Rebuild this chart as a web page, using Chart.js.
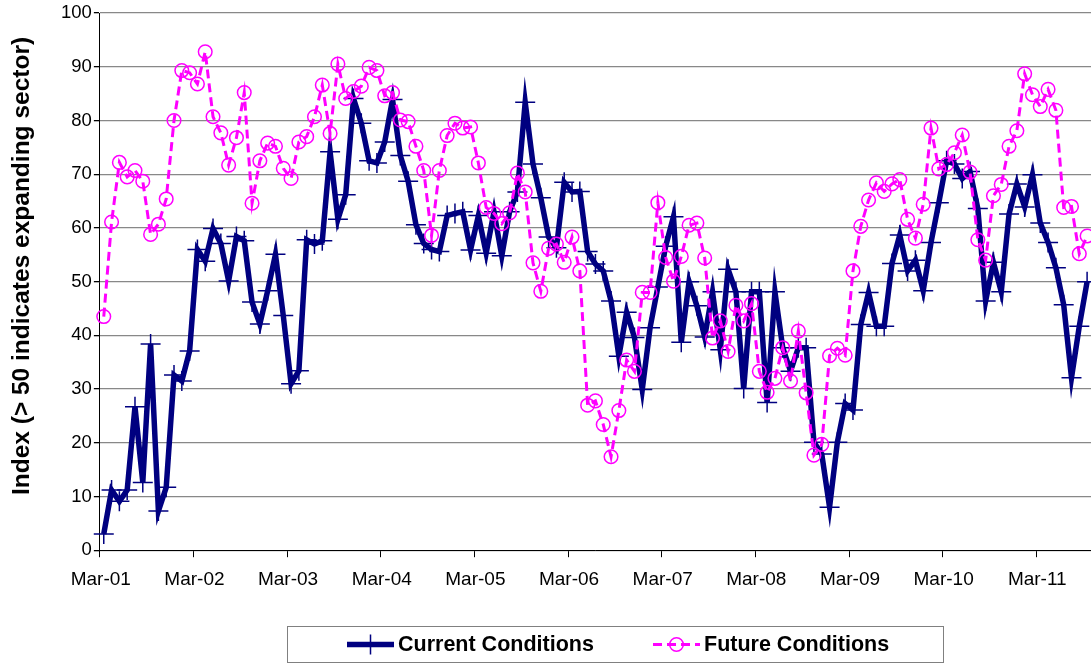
<!DOCTYPE html>
<html><head><meta charset="utf-8">
<script src="https://cdn.jsdelivr.net/npm/chart.js@4/dist/chart.umd.min.js"></script>
<style>html,body{margin:0;padding:0;background:#fff;overflow:hidden}#wrap{width:1091px;height:663px}</style>
</head><body><div id="wrap"><canvas id="c" width="1091" height="663"></canvas></div>
<script>
// Months Mar-01 .. Sep-11 (category labels)
const monthNames = ['Jan','Feb','Mar','Apr','May','Jun','Jul','Aug','Sep','Oct','Nov','Dec'];
const categories = [];
for (let i = 0; i < 127; i++) {
  const m = (2 + i) % 12, y = 1 + Math.floor((2 + i) / 12);
  categories.push(monthNames[m] + '-' + String(y).padStart(2, '0'));
}
const tickLabels = ['Mar-01','Mar-02','Mar-03','Mar-04','Mar-05','Mar-06','Mar-07','Mar-08','Mar-09','Mar-10','Mar-11'];

const currentConditions = [
  3, 11.2, 9.1, 11.2, 26.7, 12.6, 38.4, 7.3, 11.7, 32.6, 31.5, 37.1,
  56.0, 53.8, 59.9, 57.1, 50.1, 58.4, 57.6, 46.2, 42.1, 48.3, 55.1, 43.7,
  31.0, 33.4, 57.8, 57.0, 57.6, 74.2, 61.6, 66.2, 84.1, 79.5, 72.5, 72.1,
  76.0, 83.9, 73.5, 68.7, 60.6, 57.1, 56.0, 55.6, 62.3, 62.7, 63.0, 55.9,
  62.3, 55.3, 63.0, 54.8, 63.0, 66.7, 83.4, 71.9, 65.6, 58.3, 56.3, 68.5,
  66.7, 66.8, 55.6, 53.3, 52.0, 46.4, 36.1, 44.3, 39.6, 29.9, 41.4, 49.0,
  56.6, 62.1, 38.7, 50.0, 45.5, 39.7, 48.1, 37.3, 52.3, 48.1, 30.1, 48.1,
  48.1, 27.5, 48.1, 37.7, 33.3, 37.7, 37.7, 20.1, 17.9, 8.0, 20.1, 27.3,
  26.1, 42.0, 48.0, 41.7, 41.7, 53.4, 58.7, 52.0, 54.0, 48.3, 57.3, 64.7,
  72.5, 71.9, 69.2, 70.5, 63.6, 46.4, 53.6, 48.1, 62.6, 68.2, 63.9, 69.9,
  60.9, 57.3, 52.6, 45.7, 32.1, 41.7, 50.0
];
const futureConditions = [
  43.5, 61.1, 72.2, 69.5, 70.7, 68.7, 58.8, 60.7, 65.4, 80.0, 89.3, 88.9,
  86.8, 92.8, 80.7, 77.7, 71.7, 76.8, 85.2, 64.6, 72.5, 75.8, 75.2, 71.1,
  69.2, 76.0, 77.0, 80.7, 86.6, 77.6, 90.5, 84.1, 85.4, 86.4, 89.9, 89.3,
  84.6, 85.2, 80.1, 79.8, 75.2, 70.7, 58.6, 70.7, 77.2, 79.5, 78.6, 78.8,
  72.1, 63.8, 62.7, 60.8, 62.8, 70.2, 66.7, 53.5, 48.2, 56.2, 57.0, 53.6,
  58.3, 52.0, 27.0, 27.8, 23.4, 17.4, 26.0, 35.4, 33.3, 48.0, 48.0, 64.7,
  54.5, 50.1, 54.7, 60.5, 60.9, 54.4, 39.5, 42.7, 37.0, 45.6, 42.7, 45.9,
  33.3, 29.4, 32.0, 37.7, 31.5, 40.8, 29.3, 17.7, 19.7, 36.2, 37.6, 36.3,
  52.0, 60.3, 65.2, 68.4, 66.8, 68.2, 69.0, 61.6, 58.1, 64.4, 78.6, 71.0,
  71.8, 74.0, 77.3, 70.4, 57.8, 54.0, 66.0, 68.1, 75.2, 78.1, 88.7, 84.8,
  82.6, 85.8, 81.9, 63.8, 64.0, 55.2, 58.5
];
const seriesLabels = ['Current Conditions', 'Future Conditions'];
const yTitle = 'Index (> 50 indicates expanding sector)';

const FONT = "'Liberation Sans', Arial, sans-serif";

const annotPlugin = {
  id: 'boxLegend',
  afterDraw(chart) {
    const ctx = chart.ctx;
    // y axis title
    ctx.save();
    ctx.translate(22, 266);
    ctx.rotate(-Math.PI / 2);
    ctx.fillStyle = '#000';
    ctx.font = 'bold 24.5px ' + FONT;
    ctx.textAlign = 'center';
    ctx.textBaseline = 'middle';
    ctx.fillText(yTitle, 0, 0);
    ctx.restore();
    // legend
    const box = {x: 287.5, y: 626.5, w: 656, h: 36};
    ctx.save();
    ctx.strokeStyle = '#808080';
    ctx.lineWidth = 1;
    ctx.strokeRect(box.x, box.y, box.w, box.h);
    const cy = box.y + box.h / 2;
    const items = [
      {ds: chart.data.datasets[0], x0: 347, x1: 394, tx: 398},
      {ds: chart.data.datasets[1], x0: 653, x1: 700, tx: 704}
    ];
    items.forEach(it => {
      const ds = it.ds;
      ctx.save();
      ctx.strokeStyle = ds.borderColor;
      ctx.lineWidth = ds.borderWidth;
      ctx.setLineDash(ds.borderDash || []);
      ctx.beginPath(); ctx.moveTo(it.x0, cy); ctx.lineTo(it.x1, cy); ctx.stroke();
      ctx.restore();
      ctx.save();
      ctx.strokeStyle = ds.pointBorderColor; ctx.fillStyle = 'rgba(0,0,0,0)';
      ctx.lineWidth = ds.pointBorderWidth;
      Chart.helpers.drawPoint(ctx, {pointStyle: ds.pointStyle, radius: ds.pointRadius, borderWidth: ds.pointBorderWidth, rotation: 0}, (it.x0 + it.x1) / 2, cy);
      ctx.restore();
      ctx.fillStyle = '#000';
      ctx.font = 'bold 21.5px ' + FONT;
      ctx.textBaseline = 'middle';
      ctx.textAlign = 'left';
      ctx.fillText(ds.label, it.tx, cy + 1);
    });
    ctx.restore();
  }
};

new Chart(document.getElementById('c'), {
  type: 'line',
  data: {
    labels: categories,
    datasets: [
      {
        label: seriesLabels[0], data: currentConditions,
        borderColor: '#000080', backgroundColor: '#000080', borderWidth: 5.5,
        pointStyle: 'cross', pointRadius: 10, pointBorderWidth: 1.5,
        pointBorderColor: '#000080', pointHoverRadius: 10, tension: 0, order: 2
      },
      {
        label: seriesLabels[1], data: futureConditions,
        borderColor: '#FF00FF', backgroundColor: 'rgba(0,0,0,0)', borderWidth: 3,
        borderDash: [9, 5], pointStyle: 'circle', pointRadius: 6.8, pointBorderWidth: 1.5,
        pointBorderColor: '#FF00FF', pointBackgroundColor: 'rgba(0,0,0,0)',
        pointHoverRadius: 6.8, tension: 0, order: 1
      }
    ]
  },
  options: {
    responsive: false, animation: false, devicePixelRatio: 1,
    layout: {autoPadding: false, padding: {left: 59, right: 0, top: 0, bottom: 61}},
    plugins: {legend: {display: false}, tooltip: {enabled: false}},
    scales: {
      x: {
        type: 'category', offset: true,
        afterFit: s => { s.paddingRight = 0; },
        grid: {
          offset: true, drawOnChartArea: false, drawTicks: true, tickLength: 7,
          color: ctx => (ctx.index % 12 === 0 ? '#000' : 'rgba(0,0,0,0)'), lineWidth: 1
        },
        border: {display: true, color: '#000', width: 1},
        ticks: {
          autoSkip: false, maxRotation: 0, minRotation: 0, padding: 11, labelOffset: -3,
          color: '#000', font: {family: FONT, size: 19},
          callback: function (v) { const l = this.getLabelForValue(v); return tickLabels.includes(l) ? l : ''; }
        }
      },
      y: {
        min: 0, max: 100,
        ticks: {stepSize: 10, color: '#000', padding: 2, font: {family: FONT, size: 18.5}},
        grid: {color: '#888888', lineWidth: 1.3, tickLength: 6, tickColor: '#000'},
        border: {display: true, color: '#000', width: 1},
        title: {display: false}
      }
    }
  },
  plugins: [annotPlugin]
});
</script></body></html>
